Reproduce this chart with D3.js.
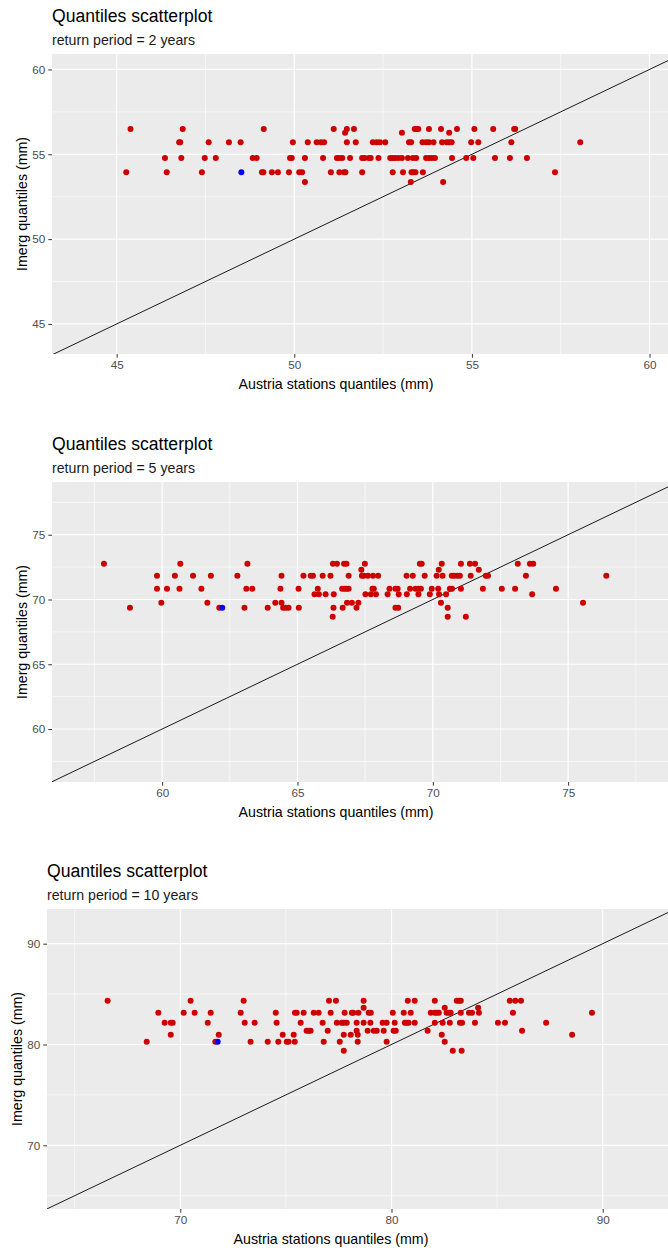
<!DOCTYPE html>
<html>
<head>
<meta charset="utf-8">
<script src="https://cdn.jsdelivr.net/npm/d3@7"></script>
<style>
  body { margin: 0; background: #fff; }
  svg { display: block; font-family: "Liberation Sans", Arial, sans-serif; }
</style>
</head>
<body>
<svg id="chart" width="668" height="1251"></svg>
<script>
// imerg quantile levels (y) and station quantiles (x) sitting on each level
const rp2Imerg = [56.49, 56.27, 55.71, 54.78, 53.94, 53.37]
const rp2Station = [
  [45.39, 46.86, 49.14, 51.11, 51.48, 51.68, 53.39, 53.45, 53.49, 53.79, 54.13, 54.58, 55.07, 55.60, 56.19, 56.22],
  [51.43, 53.03, 54.36],
  [46.76, 46.79, 47.59, 48.16, 48.49, 49.96, 50.38, 50.63, 50.75, 50.84, 51.48, 51.73, 52.21, 52.32, 52.41, 52.56, 53.23, 53.29, 53.61, 53.71, 53.79, 53.92, 54.16, 54.29, 54.36, 54.43, 54.98, 55.18, 56.11, 58.05],
  [46.36, 46.82, 47.48, 47.79, 48.83, 48.94, 49.88, 49.93, 50.30, 50.81, 51.20, 51.27, 51.35, 51.57, 51.91, 51.98, 52.10, 52.15, 52.37, 52.70, 52.77, 52.84, 52.93, 53.03, 53.20, 53.34, 53.43, 53.71, 53.79, 53.87, 53.96, 54.44, 54.84, 55.04, 55.65, 56.07, 56.55],
  [45.27, 46.41, 47.40, 49.09, 49.13, 49.37, 49.54, 49.85, 50.14, 50.22, 51.03, 51.27, 51.40, 51.44, 51.91, 52.77, 53.06, 53.30, 53.35, 53.41, 53.62, 57.34],
  [50.30, 53.28, 54.19]
]
const rp2Blue = [48.51, 53.94]

const rp5Imerg = [72.76, 72.30, 71.84, 70.83, 70.40, 69.75, 69.37, 68.67]
const rp5Station = [
  [57.85, 60.67, 63.15, 66.31, 66.46, 66.72, 66.81, 67.49, 69.52, 69.59, 70.33, 71.04, 71.37, 71.56, 73.14, 73.59, 73.71],
  [67.36, 70.22, 71.70],
  [59.81, 60.47, 61.14, 61.80, 62.78, 64.41, 65.22, 65.49, 65.57, 65.93, 66.22, 66.89, 67.38, 67.45, 67.60, 67.79, 67.98, 69.03, 69.26, 69.70, 70.14, 70.36, 70.70, 70.79, 70.91, 71.00, 71.40, 71.96, 72.04, 73.44, 76.41],
  [59.81, 60.18, 60.64, 61.45, 63.11, 63.33, 64.37, 65.04, 65.75, 66.65, 66.74, 66.81, 66.89, 67.77, 67.82, 68.40, 68.62, 68.70, 69.16, 69.36, 69.46, 69.56, 69.96, 70.20, 70.63, 70.71, 71.04, 71.85, 72.55, 73.04, 74.55],
  [65.63, 65.79, 66.04, 66.34, 67.51, 67.71, 67.90, 68.33, 68.74, 69.04, 69.47, 69.89, 70.23, 70.49, 73.67],
  [59.97, 61.67, 64.18, 64.41, 66.83, 67.01, 67.25, 70.30, 75.55],
  [58.81, 62.11, 63.04, 63.90, 64.47, 64.57, 64.67, 65.05, 66.33, 66.67, 67.18, 68.62, 68.72, 70.55],
  [66.30, 70.55, 71.22]
]
const rp5Blue = [62.22, 69.37]

const rp10Imerg = [84.35, 83.65, 83.15, 82.16, 81.37, 80.97, 80.28, 79.38]
const rp10Station = [
  [66.56, 70.49, 73.00, 77.04, 77.37, 78.68, 80.77, 81.10, 82.05, 83.09, 83.18, 83.28, 85.60, 85.86, 86.13],
  [78.68, 82.52, 84.10],
  [68.96, 70.16, 70.68, 71.44, 72.86, 74.52, 75.43, 75.51, 75.84, 76.32, 76.55, 77.12, 77.78, 78.12, 78.19, 78.43, 78.92, 79.02, 80.06, 80.58, 80.91, 81.86, 82.05, 82.14, 82.24, 82.61, 82.71, 82.80, 83.28, 83.67, 83.81, 84.14, 85.75, 89.49],
  [69.26, 69.55, 69.64, 71.30, 73.05, 73.52, 74.56, 75.70, 76.74, 77.41, 77.64, 77.74, 77.88, 78.35, 78.68, 79.00, 79.58, 79.77, 80.15, 80.63, 80.72, 80.81, 81.10, 82.05, 82.42, 82.76, 83.24, 83.34, 83.95, 85.04, 85.37, 87.32],
  [75.98, 76.08, 76.17, 76.98, 78.35, 78.87, 79.16, 79.30, 79.63, 80.10, 80.20, 81.71, 86.18],
  [69.55, 71.82, 74.85, 75.37, 77.74, 78.07, 78.40, 82.38, 88.55],
  [68.41, 71.66, 73.33, 74.14, 74.64, 75.04, 75.13, 75.42, 76.79, 77.55, 78.40, 79.77, 82.52],
  [77.74, 82.90, 83.32]
]
const rp10Blue = [71.77, 80.28]

const titles = ['Quantiles scatterplot', 'Quantiles scatterplot', 'Quantiles scatterplot']
const subtitles = ['return period = 2 years', 'return period = 5 years', 'return period = 10 years']
const xLabel = 'Austria stations quantiles (mm)'
const yLabel = 'Imerg quantiles (mm)'

const rp2Breaks = [45, 50, 55, 60]
const rp5Breaks = [60, 65, 70, 75]
const rp10Breaks = [70, 80, 90]

const svg = d3.select('#chart')
const W = 668

const panels = [
  { top: 54, left: 52, xDom: [43.18, 60.52], yDom: [43.23, 60.91], breaks: rp2Breaks, step: 5,
    levels: rp2Imerg, station: rp2Station, blue: rp2Blue, xTitleX: 336 },
  { top: 482, left: 52, xDom: [55.93, 78.69], yDom: [55.91, 79.07], breaks: rp5Breaks, step: 5,
    levels: rp5Imerg, station: rp5Station, blue: rp5Blue, xTitleX: 336 },
  { top: 909, left: 47, xDom: [63.69, 93.09], yDom: [63.68, 93.44], breaks: rp10Breaks, step: 10,
    levels: rp10Imerg, station: rp10Station, blue: rp10Blue, xTitleX: 331 }
]

panels.forEach((p, i) => {
  const h = 300
  const x = d3.scaleLinear().domain(p.xDom).range([p.left, W])
  const y = d3.scaleLinear().domain(p.yDom).range([p.top + h, p.top])
  const g = svg.append('g')

  // titles
  g.append('text').attr('x', p.left).attr('y', p.top - 32)
    .attr('font-size', 17.6).attr('fill', '#000').text(titles[i])
  g.append('text').attr('x', p.left).attr('y', p.top - 9)
    .attr('font-size', 14.2).attr('fill', '#1a1a1a').text(subtitles[i])

  // panel background
  const clipId = 'clip' + i
  svg.append('clipPath').attr('id', clipId)
    .append('rect').attr('x', p.left).attr('y', p.top).attr('width', W - p.left).attr('height', h)
  g.append('rect').attr('x', p.left).attr('y', p.top).attr('width', W - p.left).attr('height', h)
    .attr('fill', '#EBEBEB')

  const minor = p.breaks.map(b => b - p.step / 2).concat([p.breaks[p.breaks.length - 1] + p.step / 2])
  const inX = v => v >= p.xDom[0] && v <= p.xDom[1]
  const inY = v => v >= p.yDom[0] && v <= p.yDom[1]

  const grid = g.append('g').attr('clip-path', `url(#${clipId})`)
  grid.selectAll('.vmin').data(minor.filter(inX)).enter().append('line')
    .attr('x1', d => x(d)).attr('x2', d => x(d)).attr('y1', p.top).attr('y2', p.top + h)
    .attr('stroke', '#fff').attr('stroke-width', 0.6)
  grid.selectAll('.hmin').data(minor.filter(inY)).enter().append('line')
    .attr('y1', d => y(d)).attr('y2', d => y(d)).attr('x1', p.left).attr('x2', W)
    .attr('stroke', '#fff').attr('stroke-width', 0.6)
  grid.selectAll('.vmaj').data(p.breaks.filter(inX)).enter().append('line')
    .attr('x1', d => x(d)).attr('x2', d => x(d)).attr('y1', p.top).attr('y2', p.top + h)
    .attr('stroke', '#fff').attr('stroke-width', 1.2)
  grid.selectAll('.hmaj').data(p.breaks.filter(inY)).enter().append('line')
    .attr('y1', d => y(d)).attr('y2', d => y(d)).attr('x1', p.left).attr('x2', W)
    .attr('stroke', '#fff').attr('stroke-width', 1.2)

  // 1:1 line
  const lo = Math.min(p.xDom[0], p.yDom[0]) - 1
  const hi = Math.max(p.xDom[1], p.yDom[1]) + 1
  grid.append('line')
    .attr('x1', x(lo)).attr('y1', y(lo)).attr('x2', x(hi)).attr('y2', y(hi))
    .attr('stroke', '#1a1a1a').attr('stroke-width', 1)

  // points
  const pts = []
  p.levels.forEach((lv, j) => p.station[j].forEach(s => pts.push([s, lv])))
  grid.selectAll('.pt').data(pts).enter().append('circle')
    .attr('cx', d => x(d[0])).attr('cy', d => y(d[1])).attr('r', 3)
    .attr('fill', '#CD0000')
  grid.append('circle').attr('cx', x(p.blue[0])).attr('cy', y(p.blue[1])).attr('r', 3)
    .attr('fill', '#0000FF')

  // axes
  const xa = g.append('g').attr('transform', `translate(0,${p.top + h})`)
    .call(d3.axisBottom(x).tickValues(p.breaks.filter(inX)).tickSize(3.7).tickPadding(3).tickFormat(d3.format('d')))
  const ya = g.append('g').attr('transform', `translate(${p.left},0)`)
    .call(d3.axisLeft(y).tickValues(p.breaks.filter(inY)).tickSize(3.7).tickPadding(3).tickFormat(d3.format('d')))
  ;[xa, ya].forEach(a => {
    a.select('.domain').remove()
    a.selectAll('line').attr('stroke', '#333').attr('stroke-width', 1)
    a.selectAll('text').attr('fill', '#4D4D4D').attr('font-size', 11.7)
      .attr('font-family', '"Liberation Sans", Arial, sans-serif')
  })

  g.append('text').attr('x', p.xTitleX).attr('y', p.top + h + 34.5)
    .attr('text-anchor', 'middle').attr('font-size', 14.2).attr('fill', '#000').text(xLabel)
  g.append('text')
    .attr('transform', `translate(${p.left - 25},${p.top + h / 2}) rotate(-90)`)
    .attr('text-anchor', 'middle').attr('font-size', 14.2).attr('fill', '#000').text(yLabel)
})
</script>
</body>
</html>
